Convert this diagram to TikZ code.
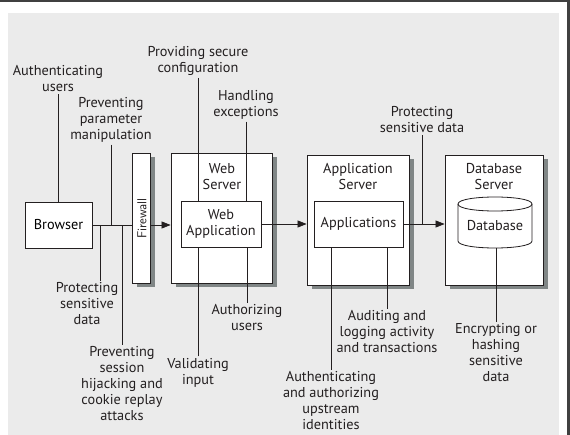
\documentclass[tikz,border=0pt]{standalone}
\usepackage{fontspec}
\setmainfont{PT Sans}
\usetikzlibrary{arrows.meta,shadows}
\definecolor{shadowgray}{RGB}{128,134,134}
\definecolor{bggray}{RGB}{235,235,235}
\definecolor{ink}{RGB}{35,31,32}
\begin{document}
\begin{tikzpicture}[x=1pt,y=-1pt,
  box/.style={draw=ink, line width=0.8pt, fill=white, inner sep=0pt},
  sbox/.style={box, drop shadow={shadow xshift=4.5pt, shadow yshift=-4.5pt, fill=shadowgray, opacity=1}},
  lbl/.style={align=center, font=\fontsize{14.3}{16}\selectfont, inner sep=2pt, text=ink},
  conn/.style={line width=0.7pt, draw=ink},
  arr/.style={conn, -{Triangle[length=9pt,width=7pt]}}]
\useasboundingbox (0,0) rectangle (570,435);
\fill[white] (0,0) rectangle (570,435);
\fill[bggray] (8,13) rectangle (559,435);
\fill[black!75] (0,0) rectangle (570,2);
\fill[black!75] (567,0) rectangle (570,435);

% boxes
\node[box, minimum width=67pt, minimum height=46pt, font=\fontsize{14.3}{16}\selectfont] (browser) at (58.5,225) {Browser};
\node[sbox, minimum width=18pt, minimum height=130pt] (firewall) at (141,218) {};
\node[rotate=90, font=\fontsize{13}{15}\selectfont\sffamily, text=ink, inner sep=0pt] (fwtext) at (142,218.5) {Firewall};
\node[sbox, minimum width=101pt, minimum height=130pt] (webserver) at (221.5,218) {};
\node[lbl] (wstitle) at (222,176.5) {Web\\Server};
\node[box, minimum width=80pt, minimum height=46pt, lbl, inner sep=0pt] (webapp) at (221,224) {Web\\Application};
\node[sbox, minimum width=102pt, minimum height=130pt] (appserver) at (358,220) {};
\node[lbl] (astitle) at (358,177) {Application\\Server};
\node[box, minimum width=89pt, minimum height=46pt, lbl, inner sep=0pt] (apps) at (358.5,224) {Applications};
\node[sbox, minimum width=98pt, minimum height=130pt] (dbserver) at (494,220) {};
\node[lbl] (dbtitle) at (494,177) {Database\\Server};

% cylinder
\filldraw[fill=white, draw=ink, line width=0.8pt] (458,204) -- (458,241) .. controls (458,250.33) and (532,250.33) .. (532,241) -- (532,204) .. controls (532,194.67) and (458,194.67) .. (458,204) -- cycle;
\draw[ink, line width=0.8pt] (458,204) .. controls (458,213.33) and (532,213.33) .. (532,204);
\node[lbl] (db) at (495,226) {Database};
\coordinate (dbbot) at (495,248);

% main flow
\draw[conn] (browser.east) -- (browser.east -| firewall.west);
\draw[arr] (firewall.east |- browser.east) -- (webserver.west |- browser.east);
\draw[arr] (webapp.east) -- (webapp.east -| appserver.west);
\draw[arr] (apps.east) -- (apps.east -| dbserver.west);

% labels
\node[lbl] (authu) at (58,79) {Authenticating\\users};
\node[lbl] (param) at (111,120) {Preventing\\parameter\\manipulation};
\node[lbl] (config) at (198,61) {Providing secure\\configuration};
\node[lbl] (exc) at (246,105) {Handling\\exceptions};
\node[lbl] (prott) at (422,120) {Protecting\\sensitive data};
\node[lbl] (protb) at (87,304) {Protecting\\sensitive\\data};
\node[lbl] (sess) at (122,384) {Preventing\\session\\hijacking and\\cookie replay\\attacks};
\node[lbl] (valid) at (198,373) {Validating\\input};
\node[lbl] (authz) at (247,318) {Authorizing\\users};
\node[lbl] (audit) at (387,332) {Auditing and\\logging activity\\and transactions};
\node[lbl] (ups) at (331,401) {Authenticating\\and authorizing\\upstream\\identities};
\node[lbl] (enc) at (496,353) {Encrypting or\\hashing\\sensitive\\data};

% connectors
\draw[conn] (authu.south) -- (authu.south |- browser.north);
\draw[conn] (param.south) -- (param.south |- browser.east);
\draw[conn] (config.south) -- (config.south |- webapp.north);
\draw[conn] (exc.south) -- (exc.south |- webapp.north);
\draw[conn] (prott.south) -- (prott.south |- apps.east);
\draw[conn] ([xshift=13pt]protb.north) -- ([xshift=13pt]protb.north |- browser.east);
\draw[conn] (sess.north) -- (sess.north |- browser.east);
\draw[conn] (valid.north) -- (valid.north |- webapp.south);
\draw[conn] (authz.north) -- (authz.north |- webapp.south);
\draw[conn] (audit.north) -- (audit.north |- apps.south);
\draw[conn] (ups.north) -- (ups.north |- apps.south);
\draw[conn] (enc.north) -- (enc.north |- dbbot);
\end{tikzpicture}
\end{document}
